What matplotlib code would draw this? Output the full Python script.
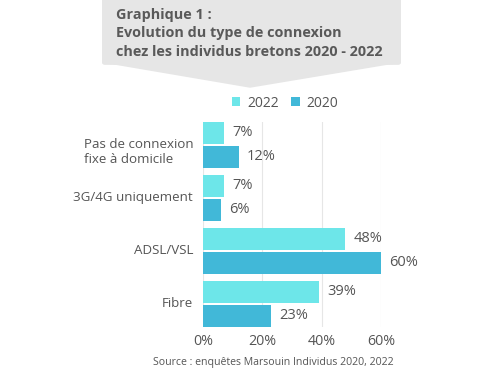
import numpy as np
import matplotlib.pyplot as plt
from matplotlib.patches import FancyBboxPatch, Polygon

categories = ["Pas de connexion\nfixe à domicile", "3G/4G uniquement", "ADSL/VSL", "Fibre"]
val_2022 = [7, 7, 48, 39]
val_2020 = [12, 6, 60, 23]
ticks = [0, 20, 40, 60]

c2022 = "#6de6e9"
c2020 = "#41b8d8"
grey = "#555555"
font = "Open Sans"

fig = plt.figure(figsize=(5, 3.75), dpi=100)
ax = fig.add_axes([0.406, 0.128, 0.356, 0.547])

y = np.arange(len(categories))
h = 0.415
off = 0.226
b1 = ax.barh(y - off, val_2022, height=h, color=c2022, label="2022")
b2 = ax.barh(y + off, val_2020, height=h, color=c2020, label="2020")
for bars, vals in [(b1, val_2022), (b2, val_2020)]:
    for b, v in zip(bars, vals):
        ax.text(v + 2.8, b.get_y() + b.get_height() / 2, f"{v}%", va="center", ha="left",
                fontsize=10.5, color=grey, family=font)

ax.set_xlim(0, 60)
ax.set_ylim(3.434, -0.434)
ax.set_yticks(y)
ax.set_yticklabels([])
# category labels, two-line labels sit a bit lower in the original
for i, cat in enumerate(categories):
    extra = 0.13 * cat.count("\n")
    ax.text(-0.055, i + extra, cat, transform=ax.get_yaxis_transform(), ha="right", va="center",
            multialignment="left", fontsize=9.6, color=grey, family=font, linespacing=1.15)
ax.set_xticks(ticks)
ax.set_xticklabels([f"{t}%" for t in ticks], fontsize=10.3, color=grey, family=font)
ax.tick_params(length=0)
ax.tick_params(axis="x", pad=5)
ax.xaxis.grid(True, color="#e6e6e6", lw=0.8)
ax.set_axisbelow(True)
for s in ax.spines.values():
    s.set_visible(False)

leg = fig.legend(handles=[b1, b2], loc="center", bbox_to_anchor=(0.57, 0.725), ncol=2, frameon=False,
                 handlelength=0.6, handleheight=0.6, handletextpad=0.5, columnspacing=0.9,
                 prop={"family": font, "size": 10})
for t in leg.get_texts():
    t.set_color(grey)

# title box with arrow
box = FancyBboxPatch((0.204, 0.827), 0.598, 0.2, boxstyle="round,pad=0,rounding_size=0.006",
                     transform=fig.transFigure, facecolor="#e6e6e6", edgecolor="none")
fig.patches.append(box)
tri = Polygon([(0.205, 0.833), (0.801, 0.833), (0.5, 0.766)], closed=True,
              transform=fig.transFigure, facecolor="#e6e6e6", edgecolor="none")
fig.patches.append(tri)
fig.text(0.232, 0.98, "Graphique 1 :\nEvolution du type de connexion\nchez les individus bretons 2020 - 2022",
         ha="left", va="top", fontsize=10.4, fontweight="bold", color="#595959", family=font, linespacing=1.42)

fig.text(0.547, 0.018, "Source : enquêtes Marsouin Individus 2020, 2022", ha="center", va="bottom",
         fontsize=7.6, color=grey, family=font)

fig.savefig("out.png", dpi=100)
